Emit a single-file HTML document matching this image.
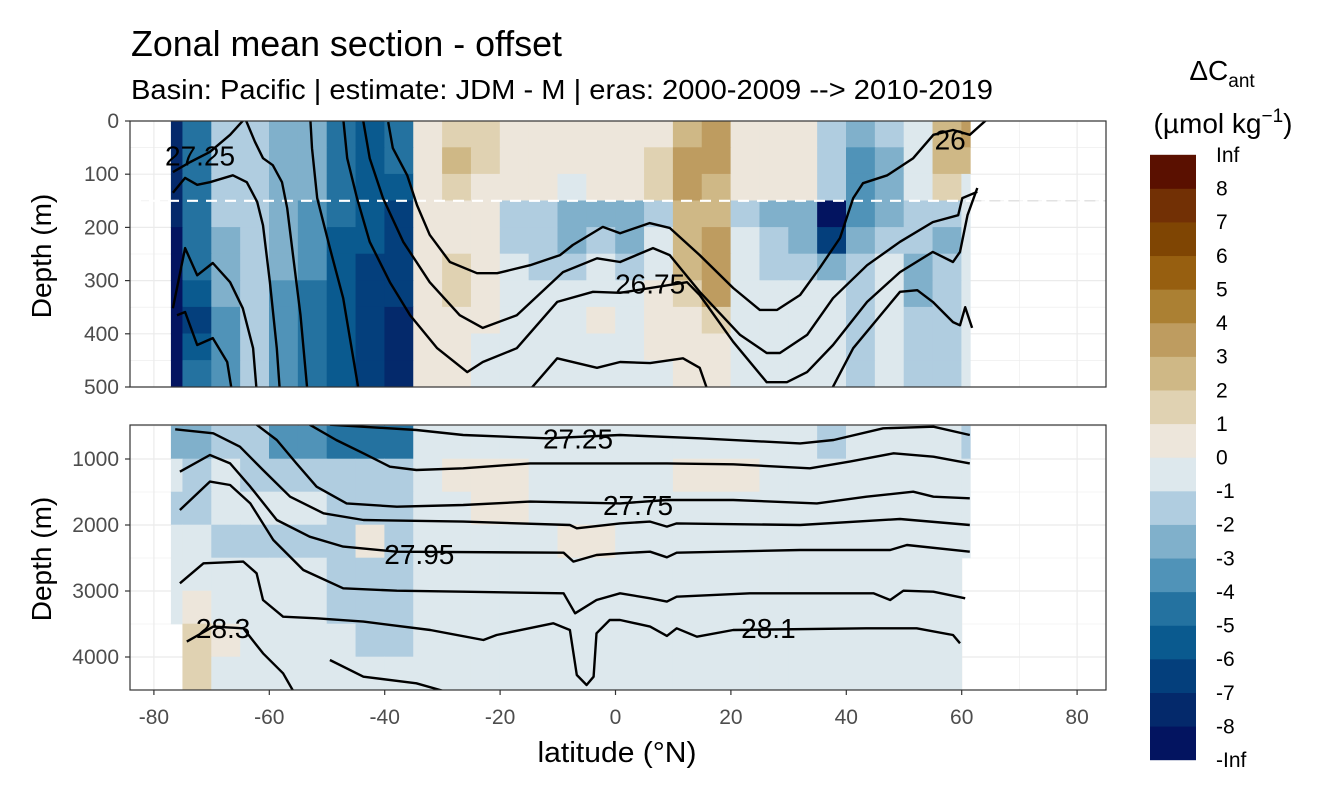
<!DOCTYPE html>
<html><head><meta charset="utf-8"><style>
html,body{margin:0;padding:0;background:#fff;}
svg{display:block;font-family:"Liberation Sans",Arial,sans-serif;}
</style></head><body>
<svg id="chart" width="1344" height="806" viewBox="0 0 1344 806">
<defs>
<clipPath id="clipTop"><rect x="130" y="121" width="976" height="266"/></clipPath>
<clipPath id="clipBot"><rect x="130" y="425" width="976" height="265"/></clipPath>
</defs>
<text x="131" y="56" font-size="36" textLength="431" lengthAdjust="spacingAndGlyphs" fill="#000">Zonal mean section - offset</text>
<text x="131" y="99" font-size="28" textLength="862" lengthAdjust="spacingAndGlyphs" fill="#000">Basin: Pacific | estimate: JDM - M | eras: 2000-2009 --&gt; 2010-2019</text>
<g id="gTop"></g>
<g id="gBot"></g>
<g id="gAxes"></g>
<text x="617" y="762" font-size="29" text-anchor="middle" textLength="159" lengthAdjust="spacingAndGlyphs" fill="#000">latitude (°N)</text>
<text transform="translate(51,256) rotate(-90)" font-size="28" text-anchor="middle" fill="#000">Depth (m)</text>
<text transform="translate(51,559) rotate(-90)" font-size="28" text-anchor="middle" fill="#000">Depth (m)</text>
<g id="gLegend">
<text x="1222" y="80" font-size="28" text-anchor="middle" fill="#000">ΔC<tspan font-size="19" dy="7">ant</tspan></text>
<text x="1223" y="133" font-size="28" text-anchor="middle" fill="#000">(µmol kg<tspan font-size="19" dy="-11">−1</tspan><tspan dy="11">)</tspan></text>
</g>
</svg>
<script>
// ---------- data ----------
const colorLevels = ["#031460","#04296b","#043f7c","#0a5a8f","#2472a0","#5093b8","#80b0cb","#b0cde0","#dde8ed","#ede6db","#e0d2b2","#cfb886","#be9c60","#ab8033","#975f10","#7f4503","#723005","#5a1000"];
const legendLabels = ["-Inf","-8","-7","-6","-5","-4","-3","-2","-1","0","1","2","3","4","5","6","7","8","Inf"];
const latTicks = [-80,-60,-40,-20,0,20,40,60,80];
const depthTicksTop = [0,100,200,300,400,500];
const depthTicksBot = [1000,2000,3000,4000];
const latEdges = [-77,-75,-70,-65,-60,-55,-50,-45,-40,-35,-30,-25,-20,-15,-10,-5,0,5,10,15,20,25,30,35,40,45,50,55,60,61.5];
const depthEdgesTop = [0,50,100,150,200,250,300,350,400,450,500];
const depthEdgesBot = [500,1000,1500,2000,2500,3000,3500,4000,4500];
const valuesTop = [
[-8,-4.5,-1.5,-1.5,-2.5,-2.5,-4.5,-5.5,-4.5,0.5,1.5,1.5,0.5,0.5,0.5,0.5,0.5,0.5,2.5,3.5,0.5,0.5,0.5,-1.5,-2.5,-1.5,-0.5,2.5,3.5],
[-8,-4.5,-1.5,-1.5,-2.5,-2.5,-4.5,-5.5,-4.5,0.5,2.5,1.5,0.5,0.5,0.5,0.5,0.5,1.5,3.5,3.5,0.5,0.5,0.5,-1.5,-3.5,-2.5,-0.5,2.5,2.5],
[-8,-4.5,-1.5,-1.5,-2.5,-2.5,-4.5,-5.5,-5.5,0.5,1.5,0.5,0.5,0.5,-0.5,0.5,0.5,1.5,3.5,2.5,0.5,0.5,0.5,-1.5,-3.5,-2.5,-0.5,1.5,-0.5],
[-8,-4.5,-1.5,-1.5,-2.5,-3.5,-4.5,-5.5,-6.5,0.5,0.5,0.5,-1.5,-1.5,-2.5,-2.5,-2.5,-1.5,2.5,2.5,-1.5,-2.5,-2.5,-8.5,-3.5,-2.5,-1.5,-1.5,-0.5],
[-8.5,-4.5,-2.5,-1.5,-2.5,-3.5,-5.5,-5.5,-6.5,0.5,0.5,0.5,-1.5,-1.5,-2.5,-1.5,-2.5,-0.5,2.5,3.5,-0.5,-1.5,-2.5,-6.5,-2.5,-1.5,-1.5,-2.5,-0.5],
[-8.5,-4.5,-2.5,-1.5,-2.5,-3.5,-5.5,-6.5,-6.5,0.5,1.5,0.5,-0.5,-1.5,-1.5,-0.5,-1.5,-0.5,2.5,3.5,-0.5,-1.5,-1.5,-2.5,-1.5,-0.5,-2.5,-1.5,-0.5],
[-8.5,-5.5,-2.5,-1.5,-3.5,-4.5,-5.5,-6.5,-6.5,0.5,1.5,0.5,-0.5,-0.5,-0.5,-0.5,-0.5,0.5,1.5,3.5,-0.5,-0.5,-0.5,-0.5,-1.5,-0.5,-2.5,-1.5,-0.5],
[-8.5,-6.5,-3.5,-1.5,-3.5,-4.5,-5.5,-6.5,-7.5,0.5,0.5,0.5,-0.5,-0.5,-0.5,0.5,-0.5,0.5,0.5,1.5,-0.5,-0.5,-0.5,-0.5,-1.5,-0.5,-1.5,-1.5,-0.5],
[-8.5,-5.5,-3.5,-1.5,-3.5,-4.5,-5.5,-6.5,-7.5,0.5,0.5,-0.5,-0.5,-0.5,-0.5,-0.5,-0.5,0.5,0.5,0.5,-0.5,-0.5,-0.5,-0.5,-1.5,-0.5,-1.5,-1.5,-0.5],
[-8.5,-4.5,-3.5,-1.5,-3.5,-4.5,-5.5,-6.5,-7.5,0.5,0.5,-0.5,-0.5,-0.5,-0.5,-0.5,-0.5,-0.5,0.5,0.5,-0.5,-0.5,-0.5,-0.5,-1.5,-0.5,-1.5,-1.5,-0.5]
];
const valuesBot = [
[-2.5,-2.5,-1.5,-1.5,-3.5,-3.5,-4.5,-4.5,-4.5,-0.5,-0.5,-0.5,-0.5,-0.5,-0.5,-0.5,-0.5,-0.5,-0.5,-0.5,-0.5,-0.5,-0.5,-1.5,-0.5,-0.5,-0.5,-0.5,-1.5],
[-0.5,-1.5,-0.5,-1.5,-1.5,-1.5,-1.5,-1.5,-1.5,-0.5,0.5,0.5,0.5,-0.5,-0.5,-0.5,-0.5,-0.5,0.5,0.5,0.5,-0.5,-0.5,-0.5,-0.5,-0.5,-0.5,-0.5,-0.5],
[-1.5,-1.5,-0.5,-0.5,-0.5,-0.5,-1.5,-1.5,-1.5,-0.5,-0.5,0.5,0.5,-0.5,-0.5,-0.5,-0.5,-0.5,-0.5,-0.5,-0.5,-0.5,-0.5,-0.5,-0.5,-0.5,-0.5,-0.5,-0.5],
[-0.5,-0.5,-1.5,-1.5,-1.5,-1.5,-1.5,0.5,-1.5,-0.5,-0.5,-0.5,-0.5,-0.5,0.5,0.5,-0.5,-0.5,-0.5,-0.5,-0.5,-0.5,-0.5,-0.5,-0.5,-0.5,-0.5,-0.5,-0.5],
[-0.5,-0.5,-0.5,-0.5,-0.5,-0.5,-1.5,-1.5,-1.5,-0.5,-0.5,-0.5,-0.5,-0.5,-0.5,-0.5,-0.5,-0.5,-0.5,-0.5,-0.5,-0.5,-0.5,-0.5,-0.5,-0.5,-0.5,-0.5,null],
[-0.5,0.5,-0.5,-0.5,-0.5,-0.5,-1.5,-1.5,-1.5,-0.5,-0.5,-0.5,-0.5,-0.5,-0.5,-0.5,-0.5,-0.5,-0.5,-0.5,-0.5,-0.5,-0.5,-0.5,-0.5,-0.5,-0.5,-0.5,null],
[null,1.5,0.5,-0.5,-0.5,-0.5,-0.5,-1.5,-1.5,-0.5,-0.5,-0.5,-0.5,-0.5,-0.5,-0.5,-0.5,-0.5,-0.5,-0.5,-0.5,-0.5,-0.5,-0.5,-0.5,-0.5,-0.5,-0.5,null],
[null,1.5,-0.5,-0.5,-0.5,-0.5,-0.5,-0.5,-0.5,-0.5,-0.5,-0.5,-0.5,-0.5,-0.5,-0.5,-0.5,-0.5,-0.5,-0.5,-0.5,-0.5,-0.5,-0.5,-0.5,-0.5,-0.5,-0.5,null]
];
// contour lines (lat, depth)
const contoursTop = [
[[-39.4,2],[-38.6,51],[-36.1,102],[-34.4,158],[-32.2,214],[-28.7,265],[-24,286],[-20.5,286],[-14.8,271],[-9.6,252],[-7.4,233],[-2.2,199],[0.8,211],[5.9,192],[9.4,201],[14.6,252],[20.4,314],[25,355],[28,355],[32,327],[35.4,276],[38.9,220],[41.2,145],[42.9,117],[47.1,102],[51.6,70],[55.1,26],[58.5,17],[61.4,26],[64.6,-5]],
[[-43.8,-5],[-42.6,70],[-40.3,145],[-36.8,227],[-32.2,303],[-27,365],[-23,389],[-17.1,365],[-9.1,284],[-3.2,258],[0.8,265],[6.5,239],[9.4,252],[14.6,321],[21.6,402],[26.2,436],[28.5,436],[33.2,402],[37.7,333],[43.6,271],[49.3,227],[55,190],[59.4,177],[60.1,145],[62.7,133]],
[[-47.2,-5],[-46.5,70],[-44.8,145],[-42.6,227],[-39.1,303],[-35.6,365],[-30.9,427],[-25.7,472],[-23,453],[-17.1,427],[-10.1,340],[-3.9,321],[0.8,323],[12.4,303],[14.6,327],[20.4,415],[26.2,491],[29.7,491],[33.2,472],[37.7,421],[43.6,340],[49.3,284],[55,246],[58.5,265],[59.7,246],[61,177],[62.7,126]],
[[-16,520],[-10.1,446],[-3.2,464],[0.8,453],[6,455],[11.7,446],[14.6,464],[16.4,520]],
[[36.7,520],[41.2,427],[46.4,359],[49.3,321],[52.3,318],[55,340],[58.5,378],[59.7,384],[60.6,350],[61.8,389]],
[[-52.9,-5],[-52.6,51],[-51.7,145],[-49.5,239],[-47.2,333],[-44.3,520]],
[[-64.2,-5],[-62.5,39],[-61.1,70],[-59.4,83],[-57.8,115],[-56.9,164],[-55.9,252],[-54.6,365],[-53.3,520]],
[[-76.7,135],[-74.6,107],[-72.5,120],[-70.3,115],[-66.3,102],[-63.9,115],[-62.1,152],[-61.1,196],[-59.9,303],[-58.7,427],[-58.1,520]],
[[-76.7,352],[-74.6,239],[-72.5,290],[-69.8,267],[-66.8,303],[-64.6,352],[-62.8,427],[-62.1,520]],
[[-76,365],[-74.6,359],[-72.5,421],[-69.8,408],[-67.3,453],[-66.3,520]],
[[-76.7,96],[-73.7,77],[-70.3,58],[-66.8,26],[-64.2,-5]]
];
const contoursBot = [
[[-49.5,480],[-34.5,561],[-26.4,636],[-11.9,687],[0.8,636],[14.6,687],[32,763],[37.8,712],[46.4,535],[55.1,510],[61.4,636]],
[[-53,480],[-48.4,712],[-43.7,914],[-39.1,1116],[-34.5,1167],[-26.4,1141],[-14.8,1066],[0.8,1066],[8.9,1066],[20.4,1081],[33.7,1141],[40.6,1040],[48.2,914],[55.1,965],[61.4,1066]],
[[-62.2,480],[-58.7,712],[-55.3,1066],[-51.8,1419],[-46.6,1672],[-37.9,1722],[-26.4,1697],[-14.8,1646],[0.8,1672],[8.9,1621],[20.4,1621],[34.9,1672],[43.5,1571],[51.6,1495],[55.1,1571],[61.4,1596]],
[[-76.3,550],[-69.7,611],[-65.1,813],[-61.1,1167],[-56.4,1571],[-50.6,1823],[-43.7,1924],[-26.4,1949],[-7.9,2000],[-6.7,2050],[0.8,1975],[6,1949],[8.9,2025],[10.6,1975],[32,2000],[49.3,1909],[61.4,2000]],
[[-75.5,1192],[-70.3,939],[-66.8,1066],[-63.3,1419],[-58.7,1924],[-53,2177],[-47.2,2328],[-37.9,2404],[-9,2419],[-7.3,2555],[-3.3,2454],[0.8,2429],[6,2404],[8.9,2490],[10.6,2419],[32,2379],[47.6,2379],[50.5,2303],[61.4,2404]],
[[-75.5,1773],[-70.3,1343],[-66.8,1394],[-63.3,1672],[-59.3,2227],[-54.1,2682],[-47.2,2959],[-37.9,2995],[-26.4,3010],[-9,3035],[-7,3338],[-3.3,3136],[0.8,3035],[6,3111],[8.9,3161],[10.6,3086],[23.3,3035],[44.7,3035],[47.6,3136],[49.9,2995],[55.1,3010],[60.6,3111]],
[[-75.5,2884],[-71.4,2581],[-64.5,2555],[-62.2,2732],[-61.1,3136],[-57.6,3389],[-51.8,3414],[-43.7,3464],[-32.1,3591],[-22.9,3742],[-20.6,3666],[-10.8,3490],[-7.9,3591],[-6.7,4272],[-5,4424],[-3.8,4298],[-3.3,3641],[-1,3439],[0.8,3439],[6,3540],[8.9,3681],[10.6,3565],[14.1,3692],[20.4,3591],[43.5,3565],[52.2,3565],[58.5,3666],[59.7,3793]],
[[-74.3,3767],[-69.7,3540],[-64.5,3565],[-61.1,3944],[-57.6,4247],[-55.3,4600]],
[[-49.5,4045],[-43.7,4298],[-34.5,4399],[-26.4,4600]]
];
const labelsTop = [["27.25",-72,65],["26.75",6,305],["26",58,35]];
const labelsBot = [["27.25",-6.5,690],["27.75",3.9,1700],["27.95",-34,2440],["28.3",-68,3560],["28.1",26.5,3560]];
const refDepth = 150;

// ---------- scales ----------
const NS="http://www.w3.org/2000/svg";
const xS = lat => 615.5 + lat*5.77;
const yTop = d => 121 + d*0.532;
const yBot = d => 426 + (d-500)*0.066;
function colorOf(v){let i=Math.floor(v)+9; if(i<0)i=0; if(i>17)i=17; return colorLevels[i];}
function mk(tag,attrs,parent){const e=document.createElementNS(NS,tag);for(const k in attrs)e.setAttribute(k,attrs[k]);parent.appendChild(e);return e;}
const svg=document.getElementById('chart');

function panel(g, clip, yS, edges, vals, y0, y1, minorY, majorY){
  const bg=mk('rect',{x:130,y:y0,width:976,height:y1-y0,fill:'#fff'},g);
  
  
  for(let l=-90;l<=90;l+=10){ if(l<-84||l>84)continue;
    const ln=mk('line',{x1:xS(l),x2:xS(l),y1:y0,y2:y1,stroke:'#ebebeb','stroke-width':(l%20===0)?1.2:0.6},g);
    
    }
  minorY.forEach(d=>{const ln=mk('line',{x1:130,x2:1106,y1:yS(d),y2:yS(d),stroke:'#ebebeb','stroke-width':0.6},g);
    
    });
  majorY.forEach(d=>{const ln=mk('line',{x1:130,x2:1106,y1:yS(d),y2:yS(d),stroke:'#ebebeb','stroke-width':1.2},g);
    
    });
  const cg=mk('g',{'clip-path':'url(#'+clip+')'},g);
  
  
  for(let r=0;r<vals.length;r++){
    for(let c=0;c<vals[r].length;c++){
      const v=vals[r][c]; if(v===null)continue;
      const xa=xS(latEdges[c]), xb=xS(latEdges[c+1]);
      const ya=yS(edges[r]), yb=yS(edges[r+1]);
      const cell=mk('rect',{x:xa-0.3,y:ya-0.3,width:xb-xa+0.6,height:yb-ya+0.6,fill:colorOf(v)},cg);
      
      
    }
  }
  return cg;
}
function drawContours(cg, yS, contours, labels){
  contours.forEach(pts=>{
    const p=mk('polyline',{points:pts.map(q=>xS(q[0]).toFixed(1)+','+yS(q[1]).toFixed(1)).join(' '),fill:'none',stroke:'#000','stroke-width':2.4,'stroke-linejoin':'round'},cg);
    
    
  });
  labels.forEach(l=>{
    const t=mk('text',{x:xS(l[1]),y:yS(l[2])+10,'font-size':28,'text-anchor':'middle',fill:'#000'},cg);
    t.textContent=l[0];
    
    
  });
}
const gT=document.getElementById('gTop'), gB=document.getElementById('gBot');
const cgT=panel(gT,'clipTop',yTop,depthEdgesTop,valuesTop,121,387,[50,150,250,350,450],[0,100,200,300,400,500]);
const dl=mk('line',{x1:130,x2:1106,y1:yTop(refDepth),y2:yTop(refDepth),stroke:'#fff','stroke-width':2.2,'stroke-dasharray':'11,8'},cgT);


const dl2=mk('line',{x1:xS(61.5),x2:1106,y1:yTop(refDepth),y2:yTop(refDepth),stroke:'#e2e2e2','stroke-width':1.5,'stroke-dasharray':'11,8'},cgT);


drawContours(cgT,yTop,contoursTop,labelsTop);
const cgB=panel(gB,'clipBot',yBot,depthEdgesBot,valuesBot,425,690,[500,1500,2500,3500,4500],[1000,2000,3000,4000]);
drawContours(cgB,yBot,contoursBot,labelsBot);
[[121,387],[425,690]].forEach(b=>{
  const r=mk('rect',{x:130,y:b[0],width:976,height:b[1]-b[0],fill:'none',stroke:'#333','stroke-width':1.2},svg);
  
  
});
// axes
const gA=document.getElementById('gAxes');
latTicks.forEach(l=>{
  const tk=mk('line',{x1:xS(l),x2:xS(l),y1:690,y2:695,stroke:'#333','stroke-width':1.2},gA);
  
  
  const t=mk('text',{x:xS(l),y:724,'font-size':21,'text-anchor':'middle',fill:'#4d4d4d'},gA);
  t.textContent=l;
  
  
});
function yTicks(list,yS){list.forEach(d=>{
  const tk=mk('line',{x1:125,x2:130,y1:yS(d),y2:yS(d),stroke:'#333','stroke-width':1.2},gA);
  
  
  const t=mk('text',{x:119,y:yS(d)+7,'font-size':21,'text-anchor':'end',fill:'#4d4d4d'},gA);
  t.textContent=d;
  
  
});}
yTicks(depthTicksTop,yTop); yTicks(depthTicksBot,yBot);
// legend
const gL=document.getElementById('gLegend');
const barTop=155, barBot=760, n=colorLevels.length, bh=(barBot-barTop)/n;
for(let i=0;i<n;i++){
  const r=mk('rect',{x:1150,y:barBot-(i+1)*bh-0.2,width:46,height:bh+0.4,fill:colorLevels[i]},gL);
  
  
}
legendLabels.forEach((s,i)=>{
  const t=mk('text',{x:1216,y:barBot-i*bh+7,'font-size':21,fill:'#000'},gL);
  t.textContent=s;
  
  
});
</script>
</body></html>
